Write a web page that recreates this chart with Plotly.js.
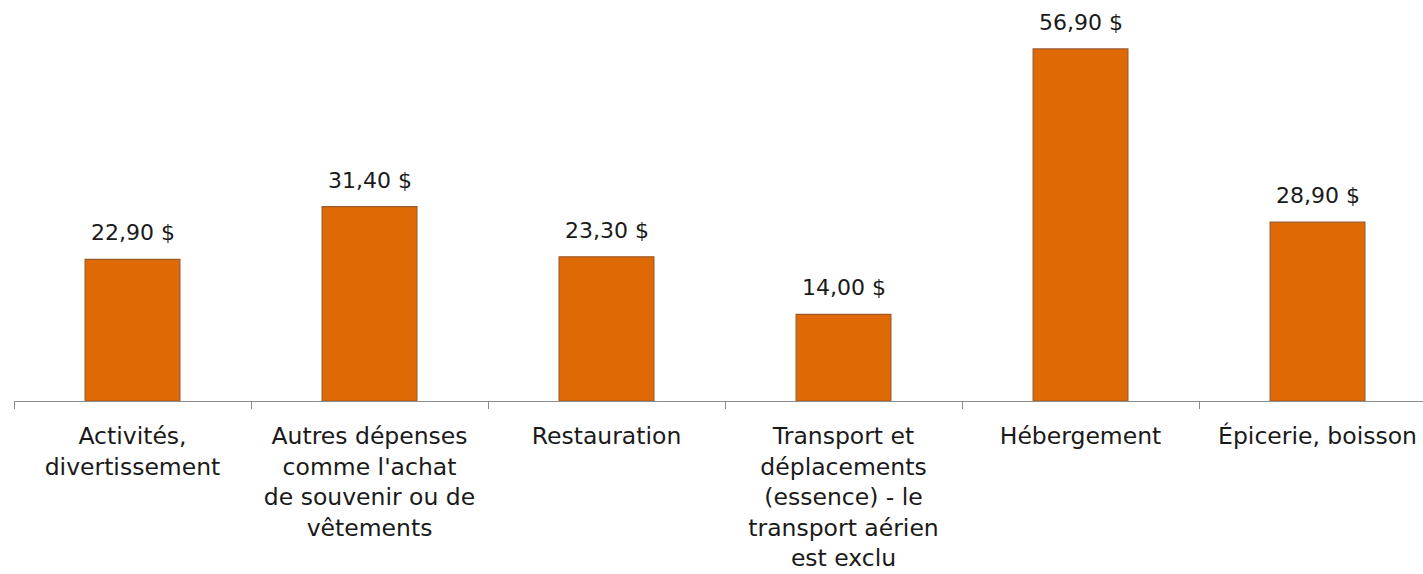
<!DOCTYPE html>
<html><head><meta charset="utf-8">
<script src="https://cdn.plot.ly/plotly-3.0.1.min.js"></script>
<style>html,body{margin:0;padding:0;background:#fff;}#chart{width:1423px;height:574px;}</style>
</head><body><div id="chart"></div>
<script>
const categories = ["Activités,<br>divertissement", "Autres dépenses<br>comme l'achat<br>de souvenir ou de<br>vêtements", "Restauration", "Transport et<br>déplacements<br>(essence) - le<br>transport aérien<br>est exclu", "Hébergement", "Épicerie, boisson"];
const values = [22.9, 31.4, 23.3, 14.0, 56.9, 28.9];
const valueLabels = ["22,90 $", "31,40 $", "23,30 $", "14,00 $", "56,90 $", "28,90 $"];

const FONT = "DejaVu Sans, sans-serif";
const trace = {
  type: 'bar', x: categories, y: values, width: 0.4,
  marker: {color: '#DF6A05', line: {color: '#9C5A2A', width: 1.2}},
  hoverinfo: 'none'
};
const annotations = categories.map((c, i) => ({
  x: c, y: values[i], text: valueLabels[i], showarrow: false,
  xref: 'x', yref: 'y', yanchor: 'bottom', yshift: 12,
  font: {family: FONT, size: 22, color: '#1a1a1a'}
}));
const layout = {
  width: 1423, height: 574,
  margin: {l: 14, r: 0, t: 0, b: 173},
  paper_bgcolor: '#fff', plot_bgcolor: '#fff',
  showlegend: false,
  xaxis: {
    type: 'category', range: [-0.5, 5.445],
    showline: true, linecolor: '#8C8C8C', linewidth: 1,
    ticks: 'outside', tickson: 'boundaries', ticklen: 7, tickcolor: '#8C8C8C',
    showgrid: false, tickangle: 0, ticklabelstandoff: 14,
    tickfont: {family: FONT, size: 23.5, color: '#1a1a1a'}
  },
  yaxis: {range: [0, 64.8], visible: false, showgrid: false, zeroline: false},
  annotations: annotations
};
Plotly.newPlot('chart', [trace], layout, {staticPlot: true});
</script></body></html>
